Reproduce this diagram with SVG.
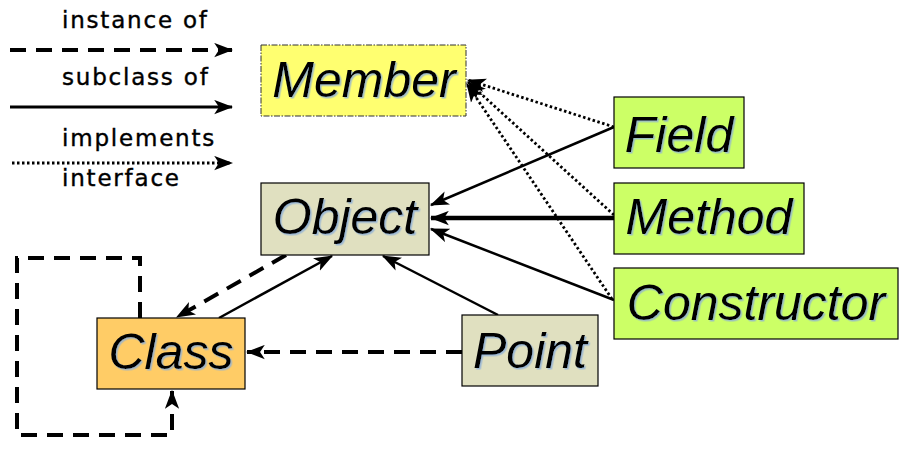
<svg xmlns="http://www.w3.org/2000/svg" width="904" height="453" viewBox="0 0 904 453">
<style>
.node{stroke:#000;stroke-width:1.2}
.lbl{font-family:"Liberation Sans",Arial,sans-serif;font-style:italic;font-size:50px;fill:#000;text-anchor:middle;filter:url(#sh)}
.leg{font-family:"DejaVu Sans",sans-serif;font-size:23px;letter-spacing:1.8px;fill:#000;stroke:#000;stroke-width:0.4}
.solid{stroke:#000;stroke-width:2.5;fill:none;marker-end:url(#ah)}
.thick{stroke:#000;stroke-width:4.5;fill:none;marker-end:url(#ah)}
.dash{stroke:#000;stroke-width:4;fill:none;stroke-dasharray:16 10;marker-end:url(#ah)}
.dot{stroke:#000;stroke-width:2.8;fill:none;stroke-dasharray:2.5 2.5;marker-end:url(#ah)}
</style>
<defs>
<marker id="ah" viewBox="0 0 16 12" refX="15" refY="6" markerWidth="19" markerHeight="15" markerUnits="userSpaceOnUse" orient="auto">
<path d="M0,0 L16,6 L0,12 L4,6 z" fill="#000"/>
</marker>
<filter id="sh" x="-5%" y="-10%" width="115%" height="130%">
<feDropShadow dx="1.5" dy="1.5" stdDeviation="0.4" flood-color="#8fb0d8" flood-opacity="0.8"/>
</filter>
</defs>
<rect width="904" height="453" fill="#fff"/>
<g id="legend">
<text class="leg" x="62" y="28">instance of</text>
<line class="dash" x1="10" y1="50" x2="232" y2="50" stroke-dasharray="15 9"/>
<text class="leg" x="62" y="85">subclass of</text>
<line x1="10" y1="107" x2="232" y2="107" stroke="#000" stroke-width="3" marker-end="url(#ah)"/>
<text class="leg" x="62" y="146">implements</text>
<line class="dot" x1="12" y1="163" x2="232" y2="163" stroke-width="2" stroke-dasharray="2 2"/>
<text class="leg" x="62" y="186">interface</text>
</g>
<g id="connectors">
<line class="dot" x1="614" y1="127" x2="468" y2="80"/>
<line class="dot" x1="614" y1="215" x2="468" y2="82"/>
<line class="dot" x1="612" y1="299" x2="467" y2="84"/>
<line class="solid" x1="614" y1="127" x2="431" y2="205"/>
<line class="thick" x1="614" y1="218" x2="431" y2="218"/>
<line class="solid" x1="614" y1="300" x2="431" y2="229"/>
<line class="solid" x1="498" y1="315" x2="383" y2="256"/>
<line class="solid" x1="219" y1="318" x2="332" y2="256"/>
<line class="dash" x1="286" y1="255" x2="177" y2="317"/>
<line class="dash" x1="462" y1="352" x2="247" y2="352"/>
<path class="dash" d="M140,318 V258 H17 V435 H172 V391" stroke-dasharray="20 16"/>
</g>
<g id="member">
<rect x="261" y="45" width="205" height="71" fill="#ffff70" stroke="#333" stroke-width="1" stroke-dasharray="6 1.5 1.5 1.5"/>
<text class="lbl" x="364" y="97">Member</text>
</g>
<g id="field">
<rect class="node" x="614" y="97" width="130" height="71" fill="#ccff66"/>
<text class="lbl" x="679" y="152">Field</text>
</g>
<g id="method">
<rect class="node" x="614" y="183" width="190" height="71" fill="#ccff66"/>
<text class="lbl" x="709" y="234">Method</text>
</g>
<g id="constructor">
<rect class="node" x="614" y="268" width="284" height="71" fill="#ccff66"/>
<text class="lbl" x="756" y="320">Constructor</text>
</g>
<g id="object">
<rect class="node" x="261" y="183" width="168" height="72" fill="#e0e0c0"/>
<text class="lbl" x="345" y="234">Object</text>
</g>
<g id="class">
<rect class="node" x="97" y="318" width="148" height="71" fill="#ffcc66"/>
<text class="lbl" x="171" y="369">Class</text>
</g>
<g id="point">
<rect class="node" x="462" y="315" width="136" height="71" fill="#e0e0c0"/>
<text class="lbl" x="530" y="368">Point</text>
</g>
</svg>
